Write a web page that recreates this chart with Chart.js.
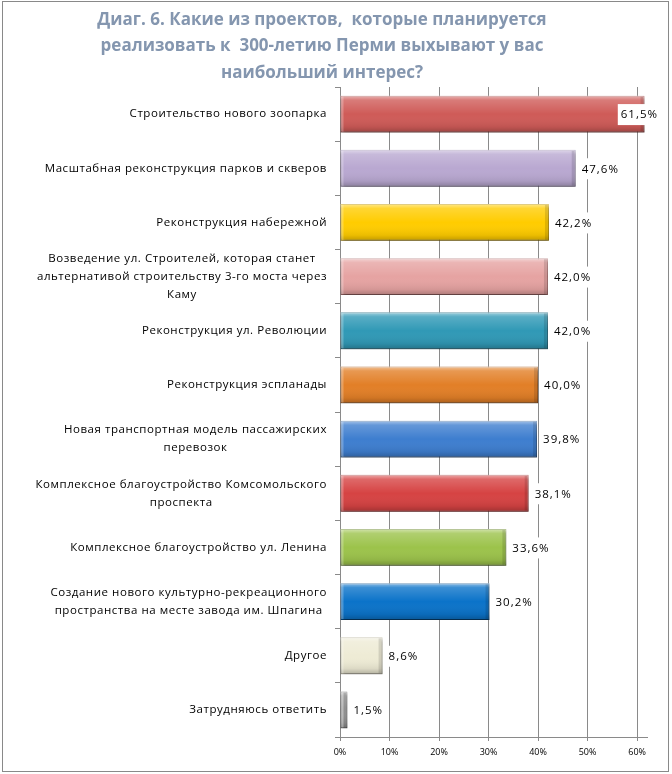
<!DOCTYPE html>
<html>
<head>
<meta charset="utf-8">
<script src="https://cdn.jsdelivr.net/npm/chart.js@4.4.1/dist/chart.umd.min.js"></script>
<style>
    html, body { margin: 0; padding: 0; background: #fff; }
    #wrap { position: relative; width: 672px; height: 774px; }
    #frame { position: absolute; left: 2px; top: 1px; width: 665px; height: 769px; border: 1px solid #898989; pointer-events: none; }
    canvas { position: absolute; left: 0; top: 0; }
</style>
</head>
<body>
<div id="wrap">
    <canvas id="chart" width="672" height="774"></canvas>
    <div id="frame"></div>
</div>
<script>
const titleLines = [
    'Диаг. 6. Какие из проектов,  которые планируется',
    'реализовать к  300-летию Перми выхывают у вас',
    'наибольший интерес?'
];

const categories = [
    'Строительство нового зоопарка',
    'Масштабная реконструкция парков и скверов',
    'Реконструкция набережной',
    ['Возведение ул. Строителей, которая станет', 'альтернативой строительству 3-го моста через', 'Каму'],
    'Реконструкция ул. Революции',
    'Реконструкция эспланады',
    ['Новая транспортная модель пассажирских', 'перевозок'],
    ['Комплексное благоустройство Комсомольского', 'проспекта'],
    'Комплексное благоустройство ул. Ленина',
    ['Создание нового культурно-рекреационного', 'пространства на месте завода им. Шпагина'],
    'Другое',
    'Затрудняюсь ответить'
];

const values = [61.5, 47.6, 42.2, 42.0, 42.0, 40.0, 39.8, 38.1, 33.6, 30.2, 8.6, 1.5];

const barColors = ['#CF5B58', '#B9A8D1', '#FFCC00', '#E6A3A2', '#3099B6', '#E27F27',
                   '#3E7ECF', '#D64343', '#9CC34B', '#0B73C9', '#EEEBD5', '#A3A3A3'];
const edgeColors = ['#9B3C3A', '#8A7AA3', '#C49A00', '#B37676', '#1F6A80', '#A85A17',
                    '#2A5993', '#9A2B2B', '#6E8E2F', '#08508F', '#B8B49C', '#6E6E6E'];

const tickSteps = [0, 10, 20, 30, 40, 50, 60];
const axisMax = 62;

const fmt = v => v.toFixed(1).replace('.', ',') + '%';
const labelFont = '11.5px "Open Sans"';
const gridColor = '#8A8A8A';

const titlePlugin = {
    id: 'titleLines',
    afterDraw(chart) {
        const ctx = chart.ctx;
        ctx.save();
        ctx.font = 'bold 17px "Open Sans"';
        ctx.fillStyle = '#8496AF';
        ctx.textAlign = 'center';
        ctx.textBaseline = 'middle';
        titleLines.forEach((t, k) => ctx.fillText(t, 322, 20 + k * 26.5));
        ctx.restore();
    }
};

const catLabels = {
    id: 'catLabels',
    afterDraw(chart) {
        const { ctx, scales: { y } } = chart;
        ctx.save();
        ctx.font = labelFont;
        ctx.letterSpacing = '0.55px';
        ctx.fillStyle = '#000';
        ctx.textAlign = 'center';
        ctx.textBaseline = 'middle';
        categories.forEach((lab, i) => {
            const lines = Array.isArray(lab) ? lab : [lab];
            const w = Math.max(...lines.map(l => ctx.measureText(l).width));
            const cx = 327 - w / 2;
            const cy = y.getPixelForValue(i);
            lines.forEach((l, k) => ctx.fillText(l, cx, cy + (k - (lines.length - 1) / 2) * 18));
        });
        ctx.restore();
    }
};

// shadow under bars, then bevel shading + value labels on top
const barLook = {
    id: 'barLook',
    beforeDatasetsDraw(chart) {
        const ctx = chart.ctx;
        ctx.save();
        ctx.shadowColor = 'rgba(0,0,0,0.35)';
        ctx.shadowBlur = 3;
        ctx.shadowOffsetX = 1;
        ctx.shadowOffsetY = 2;
    },
    afterDatasetsDraw(chart) {
        const ctx = chart.ctx;
        ctx.restore();
        ctx.save();
        const meta = chart.getDatasetMeta(0);
        meta.data.forEach((bar, i) => {
            const { x, y, base, height } = bar.getProps(['x', 'y', 'base', 'height'], true);
            const top = y - height / 2, bot = y + height / 2;
            const g = ctx.createLinearGradient(0, top, 0, bot);
            g.addColorStop(0, 'rgba(255,255,255,0.55)');
            g.addColorStop(0.12, 'rgba(255,255,255,0.2)');
            g.addColorStop(0.5, 'rgba(255,255,255,0)');
            g.addColorStop(0.85, 'rgba(0,0,0,0.08)');
            g.addColorStop(1, 'rgba(0,0,0,0.25)');
            ctx.fillStyle = g;
            ctx.fillRect(base, top, x - base, height);
            ctx.fillStyle = 'rgba(0,0,0,0.12)';
            ctx.fillRect(x - 4, top + 1, 3, height - 2);
            ctx.fillStyle = 'rgba(255,255,255,0.25)';
            ctx.fillRect(base + 1, top + 1, 2, height - 2);
        });

        ctx.font = labelFont;
        ctx.letterSpacing = '1px';
        ctx.textAlign = 'left';
        ctx.textBaseline = 'middle';
        meta.data.forEach((bar, i) => {
            const txt = fmt(values[i]);
            const w = ctx.measureText(txt).width;
            let x = bar.x + 6;
            if (x + w > 658) x = 658 - w;
            ctx.fillStyle = '#fff';
            ctx.fillRect(x - 3, bar.y - 10, w + 5, 21);
            ctx.fillStyle = '#000';
            ctx.fillText(txt, x, bar.y + 1);
        });
        ctx.restore();
    }
};

new Chart(document.getElementById('chart'), {
    type: 'bar',
    data: {
        labels: categories,
        datasets: [{
            data: values,
            backgroundColor: barColors,
            borderColor: edgeColors,
            borderWidth: 1,
            borderSkipped: false,
            categoryPercentage: 1,
            barPercentage: 0.68
        }]
    },
    options: {
        indexAxis: 'y',
        responsive: false,
        animation: false,
        layout: { padding: { top: 87, right: 25, bottom: 0, left: 0 } },
        plugins: { legend: { display: false }, tooltip: { enabled: false } },
        scales: {
            x: {
                min: 0,
                max: axisMax,
                afterBuildTicks: axis => { axis.ticks = tickSteps.map(v => ({ value: v })); },
                afterFit: scale => { scale.height = 37; },
                grid: { color: gridColor, tickLength: 4, tickColor: gridColor },
                border: { color: gridColor },
                ticks: {
                    padding: 6,
                    color: '#000',
                    font: { family: 'Open Sans', size: 9 },
                    callback: v => v + '%'
                }
            },
            y: {
                afterFit: scale => { scale.width = 340; },
                grid: { drawOnChartArea: false, offset: true, tickLength: 5, color: gridColor },
                border: { color: gridColor },
                ticks: { display: false }
            }
        }
    },
    plugins: [barLook, catLabels, titlePlugin]
});
</script>
</body>
</html>
